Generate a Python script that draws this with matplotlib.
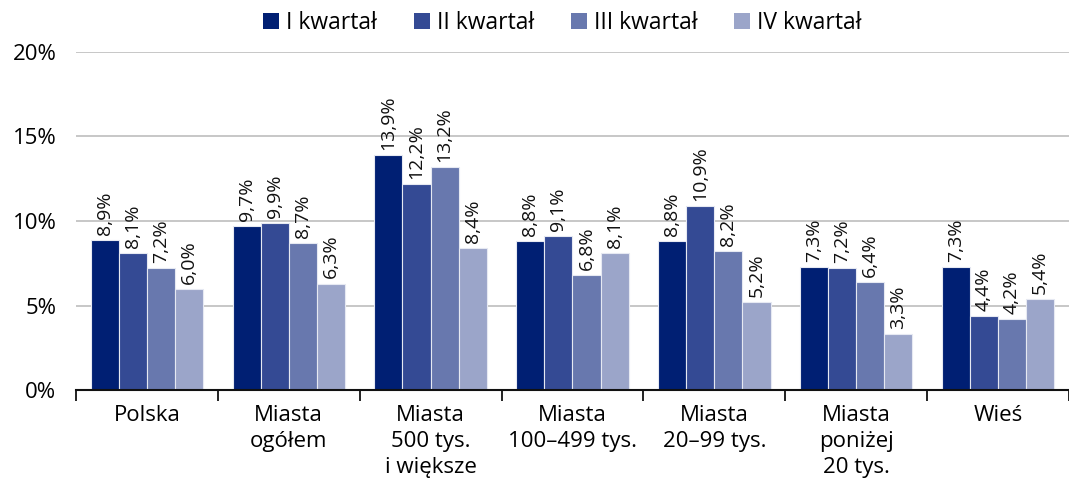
import matplotlib.pyplot as plt
import numpy as np
from matplotlib.patches import Patch

plt.rcParams['font.family'] = ['Open Sans', 'DejaVu Sans']

categories = ['Polska', 'Miasta\nogółem', 'Miasta\n500 tys.\ni większe',
              'Miasta\n100–499 tys.', 'Miasta\n20–99 tys.', 'Miasta\nponiżej\n20 tys.', 'Wieś']
series_names = ['I kwartał', 'II kwartał', 'III kwartał', 'IV kwartał']
q1 = [8.9, 9.7, 13.9, 8.8, 8.8, 7.3, 7.3]
q2 = [8.1, 9.9, 12.2, 9.1, 10.9, 7.2, 4.4]
q3 = [7.2, 8.7, 13.2, 6.8, 8.2, 6.4, 4.2]
q4 = [6.0, 6.3, 8.4, 8.1, 5.2, 3.3, 5.4]
colors = ['#001f73', '#344a94', '#6878ae', '#9ba5c9']

fig = plt.figure(figsize=(10.69, 4.9), dpi=100)
ax = fig.add_axes([0.071, 0.204, 0.929, 0.690])

x = np.arange(len(categories))
w = 0.198
for i, vals in enumerate([q1, q2, q3, q4]):
    pos = x + (i - 1.5) * w
    ax.bar(pos, vals, width=w, color=colors[i], edgecolor='#e6e9f2', linewidth=0.8, zorder=3)
    for p, v in zip(pos, vals):
        ax.text(p, v + 0.3, f'{v:.1f}%'.replace('.', ','), rotation=90,
                ha='center', va='bottom', fontsize=14, color='#111111', zorder=4)

ax.set_xlim(-0.5, 6.5)
ax.set_ylim(0, 20)
ax.set_yticks([0, 5, 10, 15, 20])
ax.set_yticklabels(['0%', '5%', '10%', '15%', '20%'], fontsize=16)
ax.yaxis.grid(True, color='#bdbdbd', linewidth=1.2, zorder=0)
ax.tick_params(axis='y', length=0, pad=14)

ax.set_xticks(x)
ax.set_xticklabels(categories, fontsize=16, linespacing=1.3)
ax.tick_params(axis='x', which='major', length=0, pad=11)
ax.set_xticks(np.arange(-0.5, 7.0, 1.0), minor=True)
ax.tick_params(axis='x', which='minor', length=8, width=1.3, color='#111111', direction='out')

for s in ['left', 'right', 'top']:
    ax.spines[s].set_visible(False)
ax.spines['bottom'].set_color('#111111')
ax.spines['bottom'].set_linewidth(1.5)
ax.spines['bottom'].set_zorder(5)

handles = [Patch(facecolor=c, edgecolor='none') for c in colors]
fig.legend(handles, series_names, loc='center', bbox_to_anchor=(0.526, 0.953), ncol=4,
           frameon=False, fontsize=16.5, handlelength=0.7, handleheight=0.7,
           handletextpad=0.3, columnspacing=1.6)

fig.savefig('out.png', dpi=100)
